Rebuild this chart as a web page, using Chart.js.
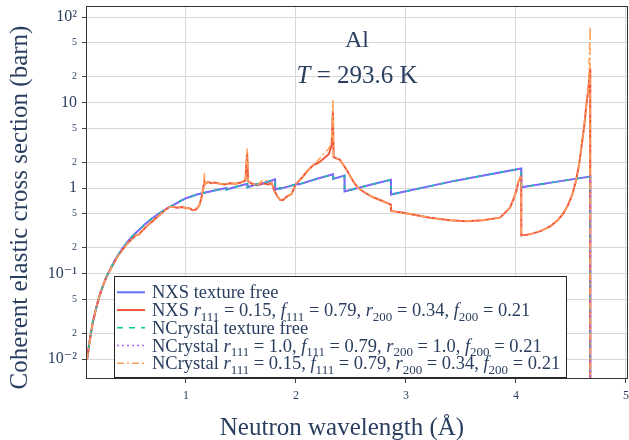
<!DOCTYPE html>
<html>
<head>
<meta charset="utf-8">
<script src="https://cdn.jsdelivr.net/npm/chart.js@4.4.0/dist/chart.umd.min.js"></script>
<style>
  html, body { margin: 0; padding: 0; background: #fff; }
</style>
</head>
<body>
<canvas id="xsChart" width="629" height="440"></canvas>
<script>
// wavelength (Å) and coherent elastic xs (barn)
const freeX = [0.100, 0.120, 0.152, 0.180, 0.212, 0.240, 0.273, 0.300, 0.333, 0.360,
  0.394, 0.420, 0.455, 0.500, 0.545, 0.600, 0.650, 0.697, 0.750, 0.800,
  0.850, 0.900, 0.950, 1.000, 1.100, 1.200, 1.300, 1.368, 1.369, 1.450,
  1.558, 1.559, 1.652, 1.653, 1.730, 1.810, 1.811, 1.857, 1.858, 1.950,
  2.024, 2.025, 2.200, 2.337, 2.338, 2.441, 2.442, 2.650, 2.863, 2.864,
  3.450, 4.048, 4.049, 4.360, 4.675, 4.676];
const freeY = [0.0098, 0.0150, 0.0266, 0.038, 0.054, 0.069, 0.089, 0.105, 0.127, 0.148,
  0.174, 0.195, 0.224, 0.262, 0.300, 0.350, 0.400, 0.447, 0.500, 0.550,
  0.600, 0.650, 0.705, 0.760, 0.840, 0.900, 0.960, 1.000, 0.960, 1.030,
  1.120, 1.020, 1.120, 1.080, 1.170, 1.260, 0.960, 1.000, 0.980, 1.060,
  1.130, 1.100, 1.290, 1.450, 1.280, 1.400, 0.910, 1.070, 1.250, 0.840,
  1.220, 1.690, 1.020, 1.180, 1.360, 0.0001];

const texX = [0.100, 0.120, 0.152, 0.180, 0.212, 0.240, 0.273, 0.300, 0.333, 0.360,
  0.394, 0.420, 0.455, 0.500, 0.545, 0.570, 0.600, 0.650, 0.697, 0.750,
  0.800, 0.848, 0.880, 0.920, 0.960, 1.000, 1.030, 1.060, 1.090, 1.120,
  1.140, 1.160, 1.168, 1.175, 1.200, 1.230, 1.260, 1.300, 1.350, 1.400,
  1.450, 1.500, 1.540, 1.556, 1.565, 1.600, 1.650, 1.700, 1.750, 1.780,
  1.800, 1.830, 1.855, 1.880, 1.920, 1.960, 2.000, 2.050, 2.100, 2.160,
  2.200, 2.250, 2.300, 2.325, 2.336, 2.342, 2.400, 2.460, 2.520, 2.560,
  2.610, 2.700, 2.760, 2.863, 2.864, 2.950, 3.060, 3.220, 3.400, 3.550,
  3.700, 3.855, 3.945, 3.980, 4.006, 4.020, 4.040, 4.048, 4.049, 4.100,
  4.155, 4.230, 4.310, 4.380, 4.430, 4.470, 4.510, 4.545, 4.575, 4.597,
  4.620, 4.643, 4.660, 4.675, 4.676];
const nxsTexY = [0.0098, 0.0150, 0.0266, 0.038, 0.054, 0.069, 0.089, 0.104, 0.125, 0.145,
  0.170, 0.188, 0.215, 0.248, 0.280, 0.285, 0.315, 0.365, 0.410, 0.470,
  0.540, 0.600, 0.605, 0.590, 0.600, 0.585, 0.580, 0.550, 0.560, 0.620,
  0.760, 1.050, 1.200, 1.120, 1.180, 1.140, 1.160, 1.130, 1.100, 1.140,
  1.120, 1.160, 1.220, 2.600, 1.200, 1.120, 1.080, 1.140, 1.100, 1.140,
  0.950, 0.800, 0.730, 0.720, 0.800, 0.850, 1.120, 1.300, 1.560, 1.870,
  1.950, 2.200, 2.500, 3.200, 8.000, 2.300, 2.140, 1.640, 1.200, 1.020,
  0.910, 0.780, 0.730, 0.640, 0.540, 0.520, 0.490, 0.450, 0.420, 0.410,
  0.420, 0.450, 0.585, 0.750, 0.950, 1.150, 1.330, 1.400, 0.280, 0.285,
  0.295, 0.315, 0.355, 0.420, 0.500, 0.620, 0.820, 1.200, 1.900, 3.100,
  5.200, 10.00, 15.00, 25.00, 0.0001];
const ncTexY = [0.0098, 0.0150, 0.0266, 0.038, 0.054, 0.069, 0.089, 0.104, 0.125, 0.145,
  0.170, 0.188, 0.215, 0.248, 0.280, 0.285, 0.315, 0.365, 0.410, 0.470,
  0.540, 0.600, 0.605, 0.590, 0.600, 0.585, 0.580, 0.550, 0.560, 0.620,
  0.760, 1.050, 1.500, 1.120, 1.180, 1.140, 1.160, 1.130, 1.100, 1.140,
  1.120, 1.160, 1.220, 2.900, 1.200, 1.120, 1.080, 1.250, 1.200, 1.140,
  0.950, 0.800, 0.730, 0.720, 0.800, 0.850, 1.120, 1.300, 1.560, 1.870,
  2.100, 2.500, 2.900, 3.600, 11.00, 2.300, 2.140, 1.640, 1.200, 1.020,
  0.910, 0.780, 0.730, 0.640, 0.540, 0.520, 0.490, 0.450, 0.420, 0.410,
  0.420, 0.450, 0.585, 0.750, 0.950, 1.150, 1.330, 1.400, 0.280, 0.285,
  0.295, 0.315, 0.355, 0.420, 0.500, 0.620, 0.820, 1.200, 1.900, 3.100,
  5.200, 10.00, 15.00, 78.00, 0.0001];

const seriesLabels = [
  'NXS texture free',
  'NXS r₁₁₁ = 0.15, f₁₁₁ = 0.79, r₂₀₀ = 0.34, f₂₀₀ = 0.21',
  'NCrystal texture free',
  'NCrystal r₁₁₁ = 1.0, f₁₁₁ = 0.79, r₂₀₀ = 1.0, f₂₀₀ = 0.21',
  'NCrystal r₁₁₁ = 0.15, f₁₁₁ = 0.79, r₂₀₀ = 0.34, f₂₀₀ = 0.21'
];
const xTicks = [1, 2, 3, 4, 5];
const yTicks = [0.01, 0.02, 0.05, 0.1, 0.2, 0.5, 1, 2, 5, 10, 20, 50, 100];
const yTickLabels = ['10⁻²', '2', '5', '10⁻¹', '2', '5', '1', '2', '5', '10', '2', '5', '10²'];
const xTitle = 'Neutron wavelength (Å)';
const yTitle = 'Coherent elastic cross section (barn)';
const material = 'Al';
const temperature = 'T = 293.6 K';

const SERIF = '"Liberation Serif", "DejaVu Serif", serif';
const INK = '#2a3f5f';
const SUBS = '₀₁₂₃₄₅₆₇₈₉';

function pts(xs, ys) {
  return xs.map((x, i) => ({x: x, y: ys[i]}));
}

// split a label into plain / italic-variable / subscript runs
function mathRuns(str) {
  const runs = [];
  for (let i = 0; i < str.length; i++) {
    const ch = str[i];
    const s = SUBS.indexOf(ch);
    let kind = 'plain', text = ch;
    if (s >= 0) { kind = 'sub'; text = String(s); }
    else if ((ch === 'r' || ch === 'f') && SUBS.includes(str[i + 1] || '')) kind = 'var';
    else if (ch === 'T' && str[i + 2] === '=') kind = 'var';
    const last = runs[runs.length - 1];
    if (last && last.kind === kind) last.text += text;
    else runs.push({kind: kind, text: text});
  }
  return runs;
}

function runFont(kind, size) {
  if (kind === 'sub') return Math.round(size * 0.7) + 'px ' + SERIF;
  if (kind === 'var') return 'italic ' + size + 'px ' + SERIF;
  return size + 'px ' + SERIF;
}

function mathWidth(ctx, str, size) {
  let w = 0;
  mathRuns(str).forEach(r => { ctx.font = runFont(r.kind, size); w += ctx.measureText(r.text).width; });
  return w;
}

function drawMath(ctx, str, x, y, size) {
  let cx = x;
  mathRuns(str).forEach(r => {
    ctx.font = runFont(r.kind, size);
    ctx.fillText(r.text, cx, r.kind === 'sub' ? y + size * 0.25 : y);
    cx += ctx.measureText(r.text).width;
  });
}

const overlay = {
  id: 'overlay',
  afterDraw(chart) {
    const {ctx, chartArea: a} = chart;
    ctx.save();
    ctx.strokeStyle = '#333';
    ctx.lineWidth = 1;
    ctx.strokeRect(Math.round(a.left) - 0.5, Math.round(a.top) - 0.5,
      Math.round(a.right - a.left) + 1, Math.round(a.bottom - a.top) + 1);

    // axis titles (sit a bit below / left of the axis centre, as in the figure)
    ctx.fillStyle = INK;
    ctx.font = '25px ' + SERIF;
    ctx.textAlign = 'center';
    ctx.textBaseline = 'alphabetic';
    ctx.fillText(xTitle, (a.left + a.right) / 2 - 15, 435);
    ctx.save();
    ctx.translate(20, (a.top + a.bottom) / 2 + 15);
    ctx.rotate(-Math.PI / 2);
    ctx.textBaseline = 'middle';
    ctx.fillText(yTitle, 0, 0);
    ctx.restore();

    // annotation
    ctx.textAlign = 'left';
    ctx.textBaseline = 'alphabetic';
    const cx = (a.left + a.right) / 2;
    drawMath(ctx, material, cx - mathWidth(ctx, material, 24) / 2, a.top + 40, 24);
    drawMath(ctx, temperature, cx - mathWidth(ctx, temperature, 25) / 2, a.top + 76, 25);

    // legend
    const size = 18.5, rowH = 17.75;
    const left = a.left + 27, bottom = a.bottom, top = bottom - 102;
    let maxW = 0;
    seriesLabels.forEach(l => { maxW = Math.max(maxW, mathWidth(ctx, l, size)); });
    const width = maxW + 38 + 6;
    ctx.fillStyle = '#fff';
    ctx.fillRect(left, top, width, bottom - top);
    ctx.strokeStyle = '#222';
    ctx.strokeRect(Math.round(left) + 0.5, Math.round(top) + 0.5, Math.round(width), Math.round(bottom - top) - 1);
    chart.data.datasets.forEach((ds, i) => {
      const base = top + 22.3 + i * rowH;
      ctx.save();
      ctx.strokeStyle = ds.borderColor;
      ctx.lineWidth = ds.borderWidth;
      ctx.setLineDash(ds.borderDash || []);
      ctx.beginPath();
      ctx.moveTo(left + 3, base - 6);
      ctx.lineTo(left + 31, base - 6);
      ctx.stroke();
      ctx.restore();
      ctx.fillStyle = INK;
      drawMath(ctx, ds.label, left + 38, base, size);
    });
    ctx.restore();
  }
};

const gridStyle = {color: '#d8d8d8', lineWidth: 1, tickColor: '#444', tickLength: 5};

new Chart(document.getElementById('xsChart').getContext('2d'), {
  type: 'line',
  data: {
    datasets: [
      {label: seriesLabels[0], data: pts(freeX, freeY), borderColor: '#636efa', borderWidth: 2, order: 5},
      {label: seriesLabels[1], data: pts(texX, nxsTexY), borderColor: '#ef553b', borderWidth: 2, order: 4},
      {label: seriesLabels[2], data: pts(freeX, freeY), borderColor: '#00cc96', borderWidth: 1.5, borderDash: [6, 6], order: 3},
      {label: seriesLabels[3], data: pts(freeX, freeY), borderColor: '#ab63fa', borderWidth: 1.5, borderDash: [2, 3], order: 2},
      {label: seriesLabels[4], data: pts(texX, ncTexY), borderColor: '#ffa15a', borderWidth: 1.5, borderDash: [7, 3, 2, 3], order: 1}
    ]
  },
  plugins: [overlay],
  options: {
    responsive: false,
    animation: false,
    layout: {padding: {top: 7, right: 2, bottom: 0, left: 0}},
    elements: {
      point: {radius: 0},
      line: {tension: 0, fill: false}
    },
    plugins: {
      legend: {display: false},
      tooltip: {enabled: false}
    },
    scales: {
      x: {
        type: 'linear',
        min: 0.1,
        max: 5.01,
        afterBuildTicks: s => { s.ticks = xTicks.map(v => ({value: v})); },
        afterFit: s => { s.height = 62; s.paddingLeft = 0; s.paddingRight = 0; },
        ticks: {color: INK, padding: 6, font: {family: SERIF, size: 12}, callback: v => String(v)},
        grid: gridStyle,
        border: {display: false}
      },
      y: {
        type: 'logarithmic',
        min: 0.006,
        max: 131,
        afterBuildTicks: s => { s.ticks = yTicks.map(v => ({value: v})); },
        afterFit: s => { s.width = 87; s.paddingTop = 0; s.paddingBottom = 0; },
        ticks: {
          autoSkip: false,
          color: INK,
          padding: 5,
          font: c => ({family: SERIF, size: (yTickLabels[c.index] === '2' || yTickLabels[c.index] === '5') ? 10 : 16}),
          callback: (v, i) => yTickLabels[i]
        },
        grid: gridStyle,
        border: {display: false}
      }
    }
  }
});
</script>
</body>
</html>
